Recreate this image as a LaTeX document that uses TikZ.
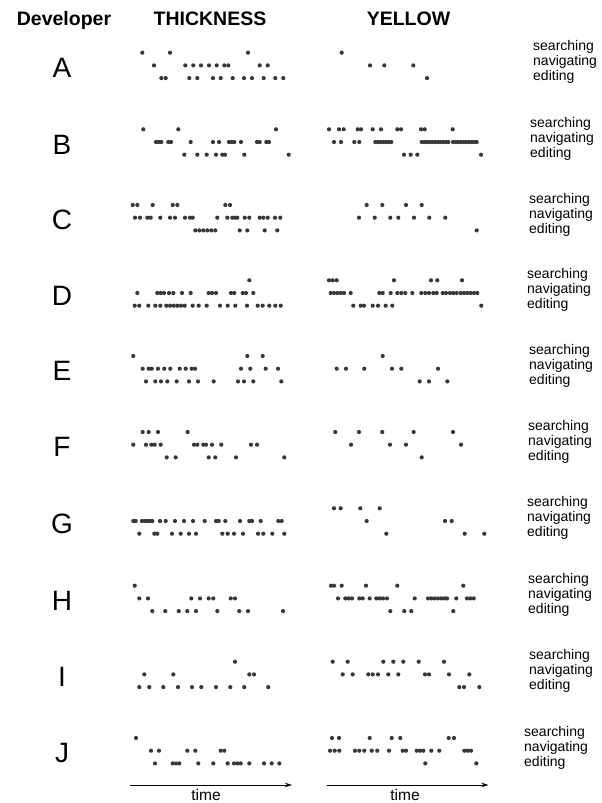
\documentclass[tikz,border=0pt]{standalone}
\usepackage{fontspec}
\setmainfont{Liberation Sans}
\usepackage{tikz}
\usetikzlibrary{arrows.meta}

\newcommand{\lane}[2]{\if\relax\detokenize{#2}\relax\else\foreach \x in {#2} \fill[evdot] (\x,#1) circle (2.1pt);\fi}
\newcommand{\devrow}[9]{%
  \node[devletter, anchor=base] (dev#2) at (62,#1+24.7) {#2};
  \node[lanelabel, anchor=west] (lab#2) at (#3,#1+9.5) {searching\\navigating\\editing};
  \lane{#1}{#4}\lane{#1+12.7}{#5}\lane{#1+25.4}{#6}%
  \lane{#1}{#7}\lane{#1+12.7}{#8}\lane{#1+25.4}{#9}}

\begin{document}
\begin{tikzpicture}[x=1pt, y=-1pt,
  evdot/.style={fill=black!78},
  header/.style={font=\fontsize{19.5}{22}\selectfont\bfseries, inner sep=0pt},
  devletter/.style={font=\fontsize{28}{30}\selectfont, inner sep=0pt},
  lanelabel/.style={font=\fontsize{14}{15}\selectfont, align=left, inner sep=0pt},
  timelabel/.style={font=\fontsize{15.5}{17}\selectfont, inner sep=0pt},
  timeaxis/.style={line width=0.9pt, -{Stealth[length=7pt, width=4.5pt]}}]
\useasboundingbox (0,0) rectangle (602,803);

\node[header, anchor=base] (hdev) at (64,25.5) {Developer};
\node[header, anchor=base] (hthick) at (210,25.5) {THICKNESS};
\node[header, anchor=base] (hyellow) at (408.5,25.5) {YELLOW};

\devrow{52.7}{A}{533}
  {142.3,170,248}
  {154,185.3,193.3,201,209,216.7,224.3,228.3,259.7,267.7}
  {161.3,165.7,189.3,197.3,213,220.7,232.7,244,252,263.7,275.3,283.3}
  {341.7}
  {370,384.3,413.3}
  {427}
\devrow{129.3}{B}{530}
  {143.3,178.3,276}
  {156,158.7,161.3,168.3,171,190.7,213,219,229,231.7,234.3,241,257,259.7,266.3,269}
  {184.3,197.3,206.7,216,222.3,225,244.3,288.7}
  {329,339,343.7,357.7,361,372.7,381,397.3,401,421,424.7,452.7}
  {334,341,354.3,359.3,375.3,378,380.7,383.3,386,388.7,391.3,421.7,424.4,427,429.7,432.3,435,437.7,440.3,443,445.7,448.3,453,455.7,458.3,461,463.7,466.3,469,471.7,474.3,476.7}
  {404,410.7,417.3,481}
\devrow{205}{C}{529}
  {132.7,137.3,152.7,172.7,177.3,225.3,230}
  {135,140,147.3,150.7,160.3,170,175,185,190,192.7,217.3,227.3,232.3,235,237.3,244.7,249.3,259.7,263.3,267.7,275,280.3}
  {195.3,199.3,203.3,207.3,211.3,215.3,239.7,247.3,264.7,277.3}
  {366.7,382.3,406,421.7}
  {359,374.7,390.3,398.3,414,429.3,445.3}
  {476.7}
\devrow{280.3}{D}{527}
  {249.3}
  {137.3,157.3,160.7,164,169,173.3,182,190.7,208.7,212,216,231,234.3,242.7,246,253.3}
  {134.7,139.3,148.3,155.3,160.3,166.3,170,173.7,177.3,181,184.7,192.7,198.7,206.7,220,227.7,235.3,247,257.7,262.7,269.3,275.3,280.7}
  {329,332.7,336.7,394,431,437.3,462}
  {330.7,334,337.3,340.7,344,350.7,379.3,382.7,390.7,397.3,401.3,405.3,412.3,421.3,425.3,429,433.3,436.7,442.7,446,450,453.3,456.7,460.7,464,467.3,470.7,474,477.3}
  {353.3,360.7,364,372.7,378,385.7,392.3,481.3}
\devrow{356}{E}{529}
  {133.3,247.3,262.7}
  {142.7,148.7,151.7,158,164.3,170.3,179.7,185.7,191.7,195,241,250.3,265.7,278}
  {146,155.3,161,167.3,176.7,189,198,213.7,238,244,253.3,281.3}
  {382.7}
  {336.7,346,364.3,392,401.3,438}
  {419.7,429,447.3}
\devrow{432}{F}{528}
  {142.7,148.7,158,187.7}
  {133.3,146,151.3,154.7,160.7,194,197.3,203.3,206,212,221.3,251,257}
  {166.7,175.7,208.7,215.3,236,284.3}
  {335.3,359,382.3,413.7,453}
  {351,390,406,461}
  {421.7}
\devrow{508.3}{G}{527}
  {}
  {133.3,135.7,142,144.7,147.3,150,152.3,160,165.7,175,184,193,204.7,216,218.7,225.3,240,249.3,252,260.7,278.3,281.7}
  {139.3,154.3,157.3,172,180.7,189,196,222.3,227.7,234,243,258,263.3,272.3,284.3}
  {334,340.7,360.3,379.7}
  {366.7,445,451.7}
  {386.3,464.7,484.3}
\devrow{585.7}{H}{528}
  {134.7}
  {139.3,148,191.3,200,208.7,213.3,230.7,235}
  {152.3,165.3,178.7,187.3,196,217.3,239.3,248,283}
  {331,334,341.7,366,397.3,463.3}
  {338,345.3,348.7,352,359.3,362.7,369.7,376.3,379.7,383,387,414.7,428,431.3,434.7,438,441.3,444.7,447,456.3,467,470.3,473.7}
  {390.3,404.3,411.3,453.3}
\devrow{661.7}{I}{529}
  {235}
  {144.3,173.3,249.3,254}
  {139.3,149.3,163.3,178,192,201.3,216,230.3,244.3,268.3}
  {332.7,347.7,383.3,393.3,403.3,418.7,444}
  {342.7,352.7,368.3,372.7,378,388.3,398.3,425,429,449,469.3}
  {459.3,464,479.3}
\devrow{738}{J}{524}
  {136}
  {151,159,187.3,195.3,220.7,224.3}
  {155,172.7,176,179.3,198.3,213.3,227.7,234,237.3,240.7,249.3,264,271.7,279.3}
  {332,339,369.7,391.7,400.3,448.7,454}
  {330,334.7,339.3,355,359.3,364.3,371.7,377.3,389,402.7,406,416.7,420,423.3,431.3,439.3,464.3,467.7,471}
  {425.3,476.3}

\coordinate (tthick0) at (130,785);
\coordinate (tthick1) at (292,785);
\coordinate (tyel0) at (326.7,785);
\coordinate (tyel1) at (488.5,785);
\draw[timeaxis] (tthick0) -- (tthick1);
\draw[timeaxis] (tyel0) -- (tyel1);
\node[timelabel, anchor=base] (timethick) at (206,800.5) {time};
\node[timelabel, anchor=base] (timeyel) at (405,800.5) {time};

\end{tikzpicture}
\end{document}
